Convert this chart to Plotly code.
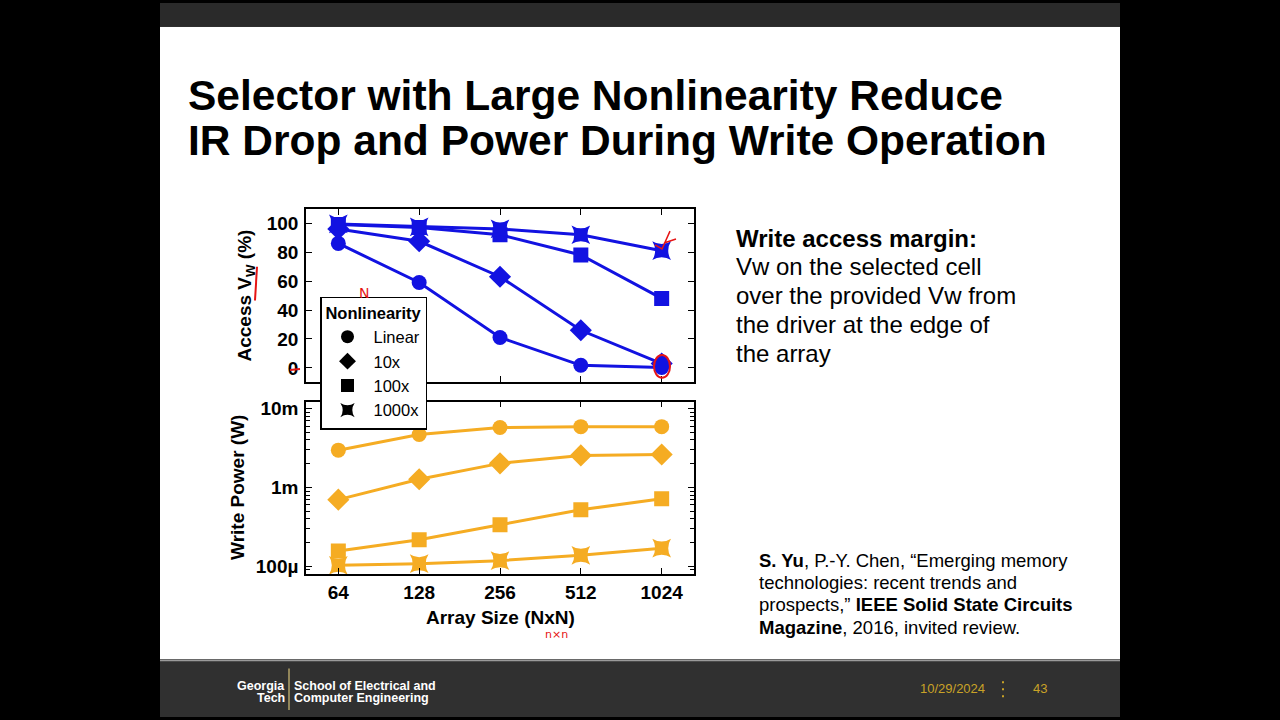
import math
import plotly.graph_objects as go

# ---------------- data ----------------
array_sizes = [64, 128, 256, 512, 1024]
size_labels = ["64", "128", "256", "512", "1024"]
series_names = ["Linear", "10x", "100x", "1000x"]
symbols = ["circle", "diamond", "square", "star-square"]

access_linear = [86, 59, 21, 1.8, 0.3]
access_10x = [96, 87.5, 63, 26, 3]
access_100x = [99, 97, 92, 78, 48]
access_1000x = [99.5, 97.5, 96, 92, 81]

power_linear = [2.97e-3, 4.7e-3, 5.75e-3, 5.9e-3, 5.9e-3]
power_10x = [0.70e-3, 1.27e-3, 2.02e-3, 2.55e-3, 2.62e-3]
power_100x = [0.156e-3, 0.217e-3, 0.336e-3, 0.52e-3, 0.72e-3]
power_1000x = [0.103e-3, 0.108e-3, 0.118e-3, 0.138e-3, 0.17e-3]

power_tickvals = [1e-4, 1e-3, 1e-2]
power_ticktext = ["100\u00b5", "1m", "10m"]
access_tickvals = [0, 20, 40, 60, 80, 100]

access_series = [access_linear, access_10x, access_100x, access_1000x]
power_series = [power_linear, power_10x, power_100x, power_1000x]

BLUE = "rgb(18,18,225)"
ORANGE = "rgb(245,172,35)"
W, H = 1280, 720
FONT = "Liberation Sans, Arial, sans-serif"


def px(x):
    return x / W


def py(y):
    return 1 - y / H


fig = go.Figure()
msize = [15, 17, 15, 17]

for name, sym, vals, ms in zip(series_names, symbols, access_series, msize):
    fig.add_trace(go.Scatter(x=array_sizes, y=vals, mode="lines+markers", name=name,
                             line=dict(color=BLUE, width=3),
                             marker=dict(symbol=sym, size=ms, color=BLUE),
                             showlegend=False, xaxis="x", yaxis="y"))
for name, sym, vals, ms in zip(series_names, symbols, power_series, msize):
    fig.add_trace(go.Scatter(x=array_sizes, y=vals, mode="lines+markers", name=name,
                             line=dict(color=ORANGE, width=3),
                             marker=dict(symbol=sym, size=ms, color=ORANGE),
                             showlegend=False, xaxis="x2", yaxis="y2"))
# legend entries (black markers, as in the figure)
for name, sym in zip(series_names, symbols):
    fig.add_trace(go.Scatter(x=[None], y=[None], mode="markers", name=name,
                             marker=dict(symbol=sym, size=13, color="black"),
                             showlegend=True, xaxis="x2", yaxis="y2"))

lx = math.log10(2)
xr = [math.log10(64) - 0.4 * lx, math.log10(1024) + 0.4 * lx]
minor_vals = [m * 10 ** e for e in (-5, -4, -3, -2) for m in range(2, 10)]

tickfont = dict(family=FONT, size=19, color="black", weight="bold")
axis_common = dict(showline=True, linecolor="black", linewidth=1.5, mirror="ticks",
                   ticks="inside", ticklen=6, tickwidth=1.2, tickcolor="black",
                   showgrid=False, zeroline=False, tickfont=tickfont)

fig.update_layout(
    width=W, height=H,
    margin=dict(l=0, r=0, t=0, b=0),
    paper_bgcolor="black",
    plot_bgcolor="white",
    xaxis=dict(type="log", range=xr, domain=[px(306), px(694)], anchor="y",
               tickvals=array_sizes, ticktext=size_labels, showticklabels=False,
               **axis_common),
    yaxis=dict(range=[-9.6, 109.6], domain=[py(382), py(208)], anchor="x",
               tickvals=access_tickvals, ticklabelstandoff=2, **axis_common),
    xaxis2=dict(type="log", range=xr, domain=[px(306), px(694)], anchor="y2",
                tickvals=array_sizes, ticktext=size_labels, ticklabelstandoff=0,
                **axis_common),
    yaxis2=dict(type="log", range=[-4.10, -1.912], domain=[py(576), py(402)], anchor="x2",
                tickvals=power_tickvals, ticktext=power_ticktext, ticklabelstandoff=2,
                minor=dict(tickvals=minor_vals, ticks="inside", ticklen=4,
                           tickcolor="black", tickwidth=1),
                **axis_common),
    legend=dict(x=px(320), y=py(296), xanchor="left", yanchor="top",
                bgcolor="white", bordercolor="black", borderwidth=1.5,
                font=dict(family=FONT, size=16.5, color="black"),
                title=dict(text="<b>Nonlinearity</b>", side="top center",
                           font=dict(family=FONT, size=16.5, color="black")),
                itemsizing="trace", itemwidth=42, tracegroupgap=0),
)

shapes = [
    # slide background
    dict(type="rect", xref="paper", yref="paper", x0=px(160), x1=px(1120), y0=py(662), y1=py(24),
         fillcolor="white", line=dict(width=0), layer="below"),
    # top bar
    dict(type="rect", xref="paper", yref="paper", x0=px(160), x1=px(1120), y0=py(24), y1=1,
         fillcolor="#2a2a2a", line=dict(width=0), layer="below"),
    # footer
    dict(type="rect", xref="paper", yref="paper", x0=px(160), x1=px(1120), y0=0, y1=py(662),
         fillcolor="#303030", line=dict(width=0), layer="below"),
    dict(type="line", xref="paper", yref="paper", x0=px(160), x1=px(1120), y0=py(663), y1=py(663),
         line=dict(color="#9a9a9a", width=1.5), layer="below"),
    # Georgia Tech gold divider
    dict(type="line", xref="paper", yref="paper", x0=px(289), x1=px(289), y0=py(713), y1=py(671),
         line=dict(color="#b3a369", width=1.5)),
]
# dotted separator in footer
for yy in (684, 691, 698):
    shapes.append(dict(type="rect", xref="paper", yref="paper", x0=px(1002), x1=px(1004),
                       y0=py(yy + 2), y1=py(yy), fillcolor="#c9a227", line=dict(width=0)))
# hand-drawn red pen marks
red = dict(color="rgb(230,20,20)", width=2)
shapes += [
    dict(type="line", xref="paper", yref="paper", x0=px(257), x1=px(255), y0=py(266), y1=py(300), line=red),
    dict(type="circle", xref="paper", yref="paper", x0=px(654), x1=px(670), y0=py(378), y1=py(355), line=red),
    dict(type="line", xref="paper", yref="paper", x0=px(380), x1=px(392), y0=py(371), y1=py(371), line=red),
    dict(type="line", xref="paper", yref="paper", x0=px(381), x1=px(399), y0=py(412), y1=py(412),
         line=dict(color="rgb(230,20,20)", width=3)),
    dict(type="line", xref="paper", yref="paper", x0=px(290), x1=px(300), y0=py(370), y1=py(369), line=red),
    dict(type="path", xref="paper", yref="paper",
         path=f"M {px(655)},{py(244)} L {px(662)},{py(248)} L {px(670)},{py(230)} M {px(664)},{py(242)} L {px(676)},{py(238)}",
         line=dict(color="rgb(230,20,20)", width=1.5)),
]
fig.update_layout(shapes=shapes)

ann = []


def text(x, y, s, size, color="black", bold=False, xanchor="left", angle=0, family=FONT):
    ann.append(dict(x=px(x), y=py(y), xref="paper", yref="paper", text=s, showarrow=False,
                    xanchor=xanchor, yanchor="middle", textangle=angle,
                    font=dict(family=family, size=size, color=color,
                              weight="bold" if bold else "normal")))


# slide title
text(186, 93, "Selector with Large Nonlinearity Reduce", 42.5, bold=True)
text(186, 139, "IR Drop and Power During Write Operation", 42.5, bold=True)

# axis titles
text(246, 295, "Access V<sub>W</sub> (%)", 19, bold=True, xanchor="center", angle=-90)
text(238, 489, "Write Power (W)", 19, bold=True, xanchor="center", angle=-90)
text(500, 620, "Array Size (NxN)", 19, bold=True, xanchor="center")

# right-hand description
text(734, 237, "<b>Write access margin:</b>", 24)
for i, line in enumerate(["Vw on the selected cell", "over the provided Vw from",
                          "the driver at the edge of", "the array"]):
    text(734, 266 + 29 * i, line, 24)

# reference
ref_lines = ["<b>S. Yu</b>, P.-Y. Chen, \u201cEmerging memory",
             "technologies: recent trends and",
             "prospects,\u201d <b>IEEE Solid State Circuits</b>",
             "<b>Magazine</b>, 2016, invited review."]
for i, line in enumerate(ref_lines):
    text(757, 562 + 22.5 * i, line, 18.5)

# footer
text(287, 689, "Georgia", 12.5, color="white", xanchor="right", bold=True)
text(287, 701, "Tech", 12.5, color="white", xanchor="right", bold=True)
text(292, 689, "School of Electrical and", 12.5, color="white", bold=True)
text(292, 701, "Computer Engineering", 12.5, color="white", bold=True)
text(987, 691, "10/29/2024", 13, color="#c9a227", xanchor="right")
text(1031, 691, "43", 13, color="#c9a227")
# red "N" pen scribble near the legend
text(364, 292, "N", 14, color="rgb(230,20,20)", xanchor="center",
     family="DejaVu Sans, sans-serif")
# pen scribble under x title
text(556, 637, "n\u00d7n", 11, color="rgb(230,20,20)", xanchor="center",
     family="DejaVu Sans, sans-serif")

fig.update_layout(annotations=ann)
fig.write_html("out.html")
